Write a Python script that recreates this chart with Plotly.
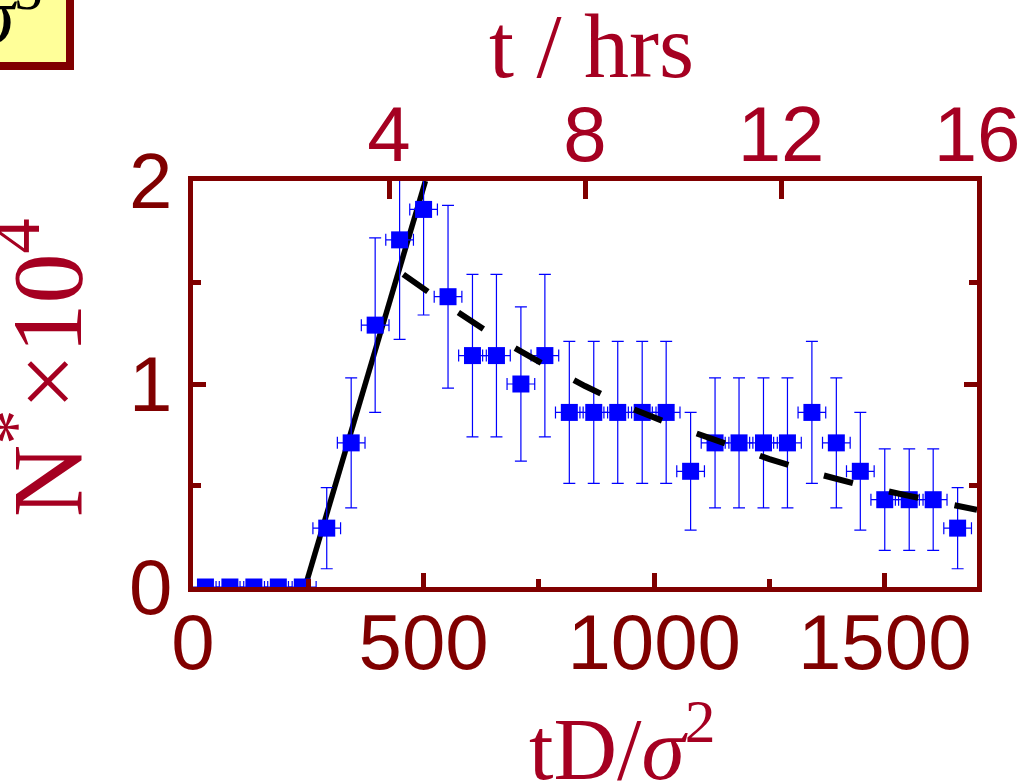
import plotly.graph_objects as go

# ---- data ----
t_scaled = [27, 80, 132, 185, 237, 290, 343, 395, 448, 500, 553, 606, 658, 711, 763, 816,
            869, 921, 974, 1026, 1079, 1132, 1184, 1237, 1289, 1342, 1395, 1447, 1500, 1553,
            1605, 1658]
n_star = [0, 0, 0, 0, 0, 0.29, 0.71, 1.29, 1.71, 1.86, 1.43, 1.14, 1.14, 1.00, 1.14, 0.86,
          0.86, 0.86, 0.86, 0.86, 0.57, 0.71, 0.71, 0.71, 0.71, 0.86, 0.71, 0.57, 0.43, 0.43,
          0.43, 0.29]
n_err = [0, 0, 0, 0, 0, 0.20, 0.32, 0.43, 0.49, 0.52, 0.45, 0.40, 0.40, 0.38, 0.40, 0.35,
         0.35, 0.35, 0.35, 0.35, 0.29, 0.32, 0.32, 0.32, 0.32, 0.35, 0.32, 0.29, 0.25, 0.25,
         0.25, 0.20]
t_err = 30

growth_x = [243, 504]
growth_y = [0, 2]

decay_x = [456, 550, 650, 750, 850, 950, 1050, 1150, 1250, 1350, 1450, 1550, 1650, 1700]
decay_y = [1.54, 1.39, 1.24, 1.11, 0.99, 0.88, 0.79, 0.71, 0.63, 0.56, 0.50, 0.45, 0.40, 0.38]

x_ticks = [0, 500, 1000, 1500]
y_ticks = [0, 1, 2]
hr_ticks = [4, 8, 12, 16]

# ---- styles ----
AX = "#800000"
CRIM = "#A50021"
SANS = "Liberation Sans, Arial, sans-serif"
SERIF = "Liberation Serif, Times New Roman, serif"

L, R, T, B = 193, 45, 181, 195
W, H = 1022, 782
PW, PH = W - L - R, H - T - B


def px(x):
    return (x - L) / PW


def py(y):
    return (H - B - y) / PH


fig = go.Figure()

fig.add_trace(go.Scatter(
    x=growth_x, y=growth_y, mode="lines",
    line=dict(color="black", width=5.5), showlegend=False, hoverinfo="skip"))

fig.add_trace(go.Scatter(
    x=t_scaled, y=n_star, mode="markers",
    marker=dict(symbol="square", size=17, color="#0000FF"),
    error_y=dict(type="data", array=n_err, color="#0000FF", thickness=1.2, width=6),
    error_x=dict(type="constant", value=t_err, color="#0000FF", thickness=1.2, width=6),
    showlegend=False))

fig.add_trace(go.Scatter(
    x=decay_x, y=decay_y, mode="lines",
    line=dict(color="black", width=6, dash="30px,37px"), showlegend=False, hoverinfo="skip"))

# invisible trace on top axis
fig.add_trace(go.Scatter(x=[0, 16], y=[None, None], xaxis="x2", mode="markers",
                         showlegend=False, hoverinfo="skip"))

fig.update_layout(
    width=W, height=H,
    margin=dict(l=L, r=R, t=T, b=B),
    paper_bgcolor="white", plot_bgcolor="white",
    xaxis=dict(
        range=[0, 1700], tickvals=x_ticks, showgrid=False, zeroline=False, automargin=False,
        showline=True, linecolor=AX, linewidth=5,
        ticks="inside", ticklen=14, tickwidth=5, tickcolor=AX, ticklabelstandoff=-17,
        minor=dict(tickvals=[250, 750, 1250], ticks="inside", ticklen=8, tickwidth=5, tickcolor=AX),
        tickfont=dict(family=SANS, size=78, color=AX),
    ),
    xaxis2=dict(
        range=[0, 16], overlaying="x", side="top", anchor="y", automargin=False,
        tickvals=hr_ticks, showgrid=False, zeroline=False,
        showline=True, linecolor=AX, linewidth=5,
        ticks="inside", ticklen=18, tickwidth=5, tickcolor=AX, ticklabelstandoff=-16,
        tickfont=dict(family=SANS, size=78, color=CRIM),
    ),
    yaxis=dict(
        range=[0, 2], tickvals=y_ticks, showgrid=False, zeroline=False, automargin=False,
        showline=True, linecolor=AX, linewidth=5, mirror="ticks",
        ticks="inside", ticklen=13, tickwidth=5, tickcolor=AX,
        minor=dict(tickvals=[0.5, 1.5], ticks="inside", ticklen=8, tickwidth=5, tickcolor=AX),
        tickfont=dict(family=SANS, size=78, color=AX),
    ),
    shapes=[dict(type="rect", xref="paper", yref="paper",
                 x0=px(-60), x1=px(70), y0=py(66), y1=py(-60),
                 line=dict(color=AX, width=8), fillcolor="#FFFF99", layer="above")],
    annotations=[
        dict(text="t / hrs", xref="paper", yref="paper", x=px(591), y=py(46),
             xanchor="center", yanchor="middle", showarrow=False,
             font=dict(family=SERIF, size=90, color=CRIM)),
        dict(text="tD/<i>σ</i><sup>2</sup>", xref="paper", yref="paper", x=px(622), y=py(742),
             xanchor="center", yanchor="middle", showarrow=False,
             font=dict(family=SERIF, size=88, color=CRIM)),
        dict(text="N<sup>*</sup>×10<sup>4</sup>", xref="paper", yref="paper", x=px(40), y=py(368),
             xanchor="center", yanchor="middle", textangle=-90, showarrow=False,
             font=dict(family=SERIF, size=100, color=CRIM)),
        dict(text="<i>σ</i><sup>3</sup>", xref="paper", yref="paper", x=px(44), y=py(10),
             xanchor="right", yanchor="middle", showarrow=False,
             font=dict(family=SERIF, size=80, color="black")),
    ],
)

fig.write_html("out.html")
